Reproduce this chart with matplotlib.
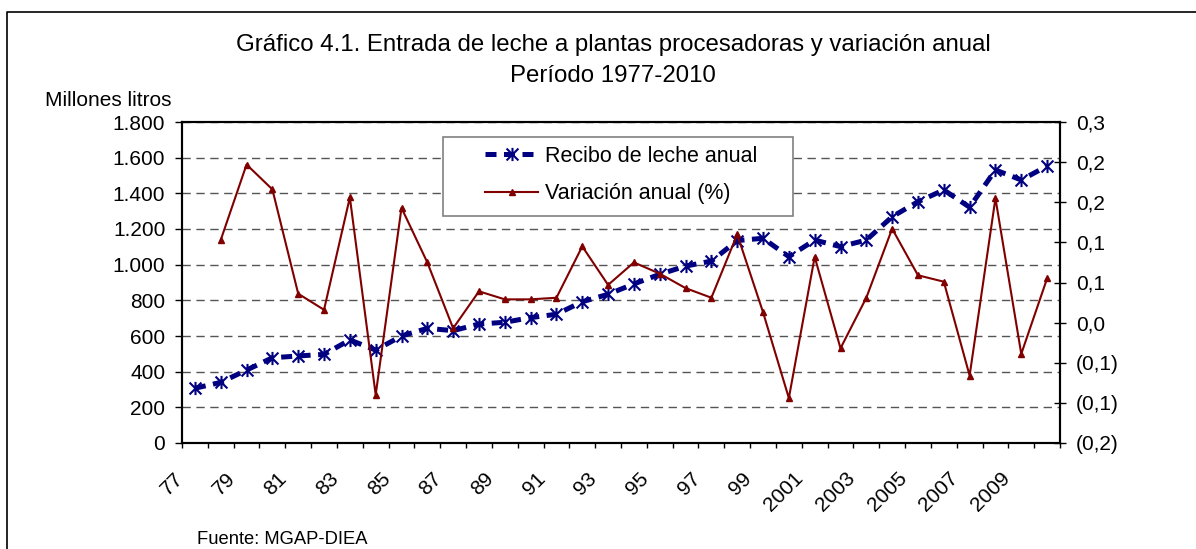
import matplotlib

matplotlib.use("Agg")
import matplotlib.pyplot as plt
import matplotlib.transforms as mtransforms
from matplotlib.lines import Line2D
from matplotlib.patches import Rectangle
from matplotlib.path import Path

plt.rcParams["font.family"] = ["Liberation Sans", "DejaVu Sans"]

# data
years = list(range(1977, 2011))
recibo = [307, 340, 409, 478, 488, 497, 578, 521, 600, 643,
          630, 667, 677, 703, 722, 792, 834, 892, 946, 992,
          1020, 1135, 1148, 1045, 1138, 1101, 1138, 1269, 1353, 1419,
          1322, 1531, 1475, 1553]
variacion_years = list(range(1978, 2011))
variacion = [0.103, 0.197, 0.166, 0.036, 0.016, 0.156, -0.090, 0.143, 0.075,
             -0.007, 0.039, 0.029, 0.029, 0.031, 0.095, 0.047, 0.075, 0.061,
             0.043, 0.031, 0.110, 0.013, -0.094, 0.082, -0.032, 0.031, 0.117,
             0.059, 0.051, -0.066, 0.155, -0.039, 0.055]
x_labels = ["77", "79", "81", "83", "85", "87", "89", "91", "93", "95", "97",
            "99", "2001", "2003", "2005", "2007", "2009"]
left_ticks = [0, 200, 400, 600, 800, 1000, 1200, 1400, 1600, 1800]
right_ticks = [-0.15, -0.10, -0.05, 0.0, 0.05, 0.10, 0.15, 0.20, 0.25]
right_labels = ["(0,2)", "(0,1)", "(0,1)", "0,0", "0,1", "0,1", "0,2", "0,2", "0,3"]

W, H = 1196, 549
fig = plt.figure(figsize=(W / 100, H / 100), dpi=100)
ax = fig.add_axes([182 / W, 1 - 443 / H, (1060 - 182) / W, (443 - 122) / H])
ax2 = ax.twinx()

xpos = list(range(len(years)))
xpos_var = [years.index(y) for y in variacion_years]

# Excel style star marker: x with a vertical bar
star = Path(
    [(0, -1), (0, 1), (-0.9, -0.9), (0.9, 0.9), (-0.9, 0.9), (0.9, -0.9)],
    [Path.MOVETO, Path.LINETO, Path.MOVETO, Path.LINETO, Path.MOVETO, Path.LINETO],
)

navy = "#000080"
maroon = "#800000"

line_rec, = ax.plot(xpos, recibo, color=navy, lw=3.6, dashes=(2.2, 1.5),
                    dash_capstyle="butt", marker=star, ms=9.5, mew=1.5,
                    mec=navy, mfc="none", zorder=3)
line_var, = ax2.plot(xpos_var, variacion, color=maroon, lw=1.5,
                     marker="^", ms=4.5, mec=maroon, mfc=maroon, zorder=3)

ax.set_xlim(-0.5, len(years) - 0.5)
ax.set_ylim(0, 1800)
ax2.set_ylim(-0.15, 0.25)

ax.set_yticks(left_ticks, [f"{v:,}".replace(",", ".") for v in left_ticks])
ax2.set_yticks(right_ticks, right_labels)

ax.set_xticks(xpos[::2], x_labels)
ax.set_xticks([p - 0.5 for p in xpos] + [len(years) - 0.5], minor=True)

ax.yaxis.grid(True, linestyle=(0, (6, 4)), color="#555555", lw=1)
ax.set_axisbelow(True)

ax.tick_params(axis="y", direction="out", length=5, width=1, pad=7, labelsize=15)
ax2.tick_params(axis="y", direction="inout", length=8.6, width=1, pad=7, labelsize=15)
ax.tick_params(axis="x", which="major", length=0, pad=18.5, labelsize=15)
ax.tick_params(axis="x", which="minor", direction="out", length=3.6, width=1)

shift = mtransforms.ScaledTranslation(-21 / 100, 0, fig.dpi_scale_trans)
for lbl in ax.get_xticklabels():
    lbl.set_rotation(45)
    lbl.set_rotation_mode("anchor")
    lbl.set_ha("right")
    lbl.set_va("top")
    lbl.set_transform(lbl.get_transform() + shift)

for a in (ax, ax2):
    for sp in a.spines.values():
        sp.set_color("black")
        sp.set_linewidth(1.5)

# titles and notes
fig.text(613 / W, 1 - 45 / H,
         "Gráfico 4.1. Entrada de leche a plantas procesadoras y variación anual",
         ha="center", va="center", fontsize=17.3)
fig.text(613 / W, 1 - 76 / H, "Período 1977-2010", ha="center", va="center", fontsize=17.3)
fig.text(172 / W, 1 - 100 / H, "Millones litros", ha="right", va="center", fontsize=15)
fig.text(197 / W, 1 - 539 / H, "Fuente: MGAP-DIEA", ha="left", va="center", fontsize=13.2)

# legend box and legend
fig.add_artist(Rectangle((443 / W, 1 - 216 / H), 350 / W, 79 / H,
                         transform=fig.transFigure, facecolor="white",
                         edgecolor="#808080", lw=1.2, zorder=2))
fig.legend([line_rec, line_var], ["Recibo de leche anual", "Variación anual (%)"],
           loc="center", bbox_to_anchor=(621 / W, 1 - 175 / H),
           frameon=False, fontsize=15.5, borderpad=0, handlelength=2.5,
           handletextpad=0.3, labelspacing=0.75, numpoints=1)

# outer chart frame
fig.add_artist(Line2D([7 / W, 7 / W, 1], [0, 1 - 12 / H, 1 - 12 / H],
                      transform=fig.transFigure, color="black", lw=1.2))

fig.savefig("out.png", dpi=100)
